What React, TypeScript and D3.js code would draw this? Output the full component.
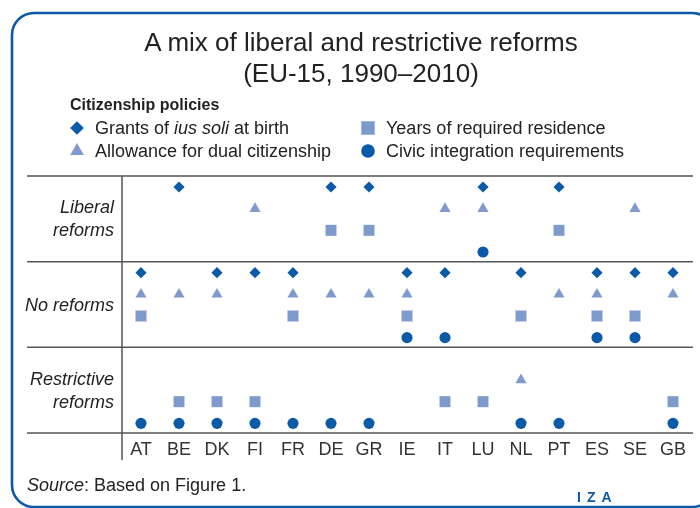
import React, { useRef, useEffect } from 'react';
import * as d3 from 'd3';

// EU-15 countries, left to right
const countries = ["AT", "BE", "DK", "FI", "FR", "DE", "GR", "IE", "IT", "LU", "NL", "PT", "ES", "SE", "GB"];

// reform categories (rows)
const reformKeys = ["L", "N", "R"];
const reformLabels = [["Liberal", "reforms"], ["No reforms"], ["Restrictive", "reforms"]];

// reform per country for each policy: L = liberal, N = none, R = restrictive
const iusSoli = ["N", "L", "N", "N", "N", "L", "L", "N", "N", "L", "N", "L", "N", "N", "N"];
const dualCitizenship = ["N", "N", "N", "L", "N", "N", "N", "N", "L", "L", "R", "N", "N", "L", "N"];
const residence = ["N", "R", "R", "R", "N", "L", "L", "N", "R", "R", "N", "L", "N", "N", "R"];
const civicIntegration = ["R", "R", "R", "R", "R", "R", "R", "N", "N", "L", "R", "R", "N", "N", "R"];

const policyNames = [
    "Grants of ius soli at birth",
    "Allowance for dual citizenship",
    "Years of required residence",
    "Civic integration requirements",
];
const policyData = [iusSoli, dualCitizenship, residence, civicIntegration];

const DARK = "#0a5aa8";
const LIGHT = "#7f9acd";
const FONT = "'Liberation Sans', Arial, sans-serif";

const width = 700;
const height = 508;

// marker path for each policy (index 0..3)
const markerPath = (i: number, big = false) => {
    const k = big ? 1.5 : 1;
    if (i === 0) return d3.symbol(d3.symbolSquare, 62 * k)();
    if (i === 1) return d3.symbol(d3.symbolTriangle, 54 * k)();
    if (i === 2) return d3.symbol(d3.symbolSquare, 121 * k)();
    return d3.symbol(d3.symbolCircle, 97 * k)();
};
const markerColor = (i: number) => (i === 0 || i === 3 ? DARK : LIGHT);
const markerRotate = (i: number) => (i === 0 ? " rotate(45)" : "");

const ReformsChart: React.FC = () => {
    const svgRef = useRef<SVGSVGElement>(null);

    useEffect(() => {
        if (!svgRef.current) return;
        const svg = d3.select(svgRef.current);
        svg.selectAll("*").remove();

        // frame
        svg.append("rect")
            .attr("x", 12).attr("y", 13)
            .attr("width", 702).attr("height", 494)
            .attr("rx", 22)
            .attr("fill", "white")
            .attr("stroke", DARK)
            .attr("stroke-width", 2.6);

        // title
        const title = svg.append("text")
            .attr("text-anchor", "middle")
            .attr("font-family", FONT)
            .attr("font-size", 26)
            .attr("fill", "#222");
        title.append("tspan").attr("x", 361).attr("y", 51).text("A mix of liberal and restrictive reforms");
        title.append("tspan").attr("x", 361).attr("y", 82).text("(EU-15, 1990–2010)");

        // legend
        svg.append("text")
            .attr("x", 70).attr("y", 110)
            .attr("font-family", FONT)
            .attr("font-size", 16)
            .attr("font-weight", "bold")
            .attr("fill", "#222")
            .text("Citizenship policies");

        const legendPos = [[77, 128], [77, 151], [368, 128], [368, 151]];
        policyNames.forEach((name, i) => {
            const [lx, ly] = legendPos[i];
            svg.append("path")
                .attr("d", markerPath(i, true))
                .attr("transform", `translate(${lx},${ly})${markerRotate(i)}`)
                .attr("fill", markerColor(i));
            const t = svg.append("text")
                .attr("x", lx + 18).attr("y", ly + 6)
                .attr("font-family", FONT)
                .attr("font-size", 18)
                .attr("fill", "#222");
            if (i === 0) {
                t.append("tspan").text("Grants of ");
                t.append("tspan").attr("font-style", "italic").text("ius soli");
                t.append("tspan").text(" at birth");
            } else {
                t.text(name);
            }
        });

        // scales
        const x = d3.scalePoint<string>().domain(countries).range([141, 673]);
        const yBand = d3.scaleBand<string>().domain(reformKeys).range([176, 433]);
        const ySlot = d3.scalePoint<number>().domain([0, 1, 2, 3]).range([11, 76]);

        // grid lines
        const edges = [...reformKeys.map(k => yBand(k)!), 433];
        svg.append("g")
            .selectAll("line")
            .data(edges)
            .enter()
            .append("line")
            .attr("x1", 27).attr("x2", 693)
            .attr("y1", d => d).attr("y2", d => d)
            .attr("stroke", "#555")
            .attr("stroke-width", 1.5);

        svg.append("line")
            .attr("x1", 122).attr("x2", 122)
            .attr("y1", 176).attr("y2", 460)
            .attr("stroke", "#555")
            .attr("stroke-width", 1.5);

        // row labels
        reformKeys.forEach((k, i) => {
            const lines = reformLabels[i];
            const mid = yBand(k)! + yBand.bandwidth() / 2;
            const t = svg.append("text")
                .attr("text-anchor", "end")
                .attr("font-family", FONT)
                .attr("font-size", 18)
                .attr("font-style", "italic")
                .attr("fill", "#222");
            lines.forEach((line, j) => {
                t.append("tspan")
                    .attr("x", 114)
                    .attr("y", mid + 6 + (j - (lines.length - 1) / 2) * 23)
                    .text(line);
            });
        });

        // markers
        policyData.forEach((values, p) => {
            svg.append("g")
                .selectAll("path")
                .data(values.map((v, c) => ({ country: countries[c], reform: v })))
                .enter()
                .append("path")
                .attr("d", markerPath(p))
                .attr("transform", d => `translate(${x(d.country)},${yBand(d.reform)! + ySlot(p)!})${markerRotate(p)}`)
                .attr("fill", markerColor(p));
        });

        // country labels
        svg.append("g")
            .selectAll("text")
            .data(countries)
            .enter()
            .append("text")
            .attr("x", d => x(d)!)
            .attr("y", 455)
            .attr("text-anchor", "middle")
            .attr("font-family", FONT)
            .attr("font-size", 18)
            .attr("fill", "#333")
            .text(d => d);

        // source
        const src = svg.append("text")
            .attr("x", 27).attr("y", 491)
            .attr("font-family", FONT)
            .attr("font-size", 18)
            .attr("fill", "#222");
        src.append("tspan").attr("font-style", "italic").text("Source");
        src.append("tspan").text(": Based on Figure 1.");

        // logo
        svg.append("text")
            .attr("x", 577).attr("y", 502)
            .attr("font-family", FONT)
            .attr("font-size", 14)
            .attr("font-weight", "bold")
            .attr("letter-spacing", 6)
            .attr("fill", DARK)
            .text("IZA");
    }, []);

    return <svg ref={svgRef} width={width} height={height} style={{ display: "block" }} />;
};

export default function App() {
    return (
        <div style={{ position: "fixed", top: 0, left: 0, width, height, overflow: "hidden" }}>
            <ReformsChart />
        </div>
    );
}
